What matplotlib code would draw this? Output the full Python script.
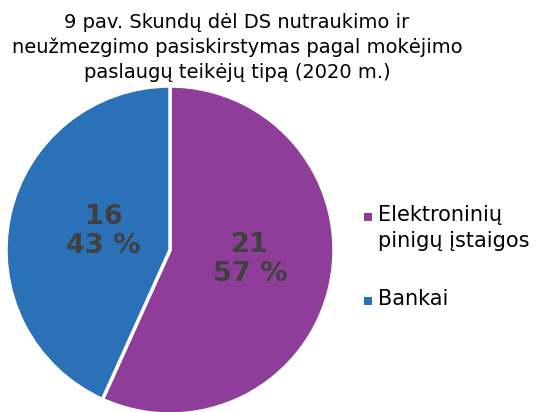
import numpy as np
import matplotlib.pyplot as plt
from matplotlib.patches import Rectangle

title = "9 pav. Skundų dėl DS nutraukimo ir\nneužmezgimo pasiskirstymas pagal mokėjimo\npaslaugų teikėjų tipą (2020 m.)"
categories = ["Elektroninių\npinigų įstaigos", "Bankai"]
values = [21, 16]
colors = ["#8E3E98", "#2A71B8"]

W, H = 537, 412
fig = plt.figure(figsize=(W / 100, H / 100), dpi=100)
cx, cy, r = 170, 250, 164
ax = fig.add_axes([(cx - r) / W, (H - cy - r) / H, 2 * r / W, 2 * r / H])

total = sum(values)


def fmt(pct):
    n = int(round(pct * total / 100))
    return f"{n}\n{pct:.0f} %"


wedges, texts, autotexts = ax.pie(
    values, colors=colors, startangle=90, counterclock=False,
    autopct=fmt, pctdistance=0.45,
    wedgeprops=dict(edgecolor="white", linewidth=2.5),
    textprops=dict(color="#404040", fontsize=19.5, fontweight="bold"),
)
# label placement inside each wedge (distance, angle offset in degrees)
label_place = [(0.49, 5.7), (0.42, -3.4)]
for w, t, (d, off) in zip(wedges, autotexts, label_place):
    ang = np.deg2rad((w.theta1 + w.theta2) / 2 + off)
    t.set_position((d * np.cos(ang), d * np.sin(ang)))
    t.set_linespacing(1.15)
ax.set_xlim(-1, 1)
ax.set_ylim(-1, 1)
ax.set_aspect("equal")
ax.axis("off")

fig.text(237 / W, 1 - 13 / H, title, ha="center", va="top",
         fontsize=14, color="#000000", linespacing=1.38)

# legend, square marker next to first line of each label
leg_x, leg_tops = 364, [205, 289]
for cat, col, top in zip(categories, colors, leg_tops):
    fig.patches.append(Rectangle((leg_x / W, 1 - (top + 16) / H), 8 / W, 8 / H,
                                 facecolor=col, transform=fig.transFigure))
    fig.text((leg_x + 14) / W, 1 - top / H, cat, ha="left", va="top",
             fontsize=15, color="#000000", linespacing=1.35)

fig.savefig("out.png", dpi=100)
